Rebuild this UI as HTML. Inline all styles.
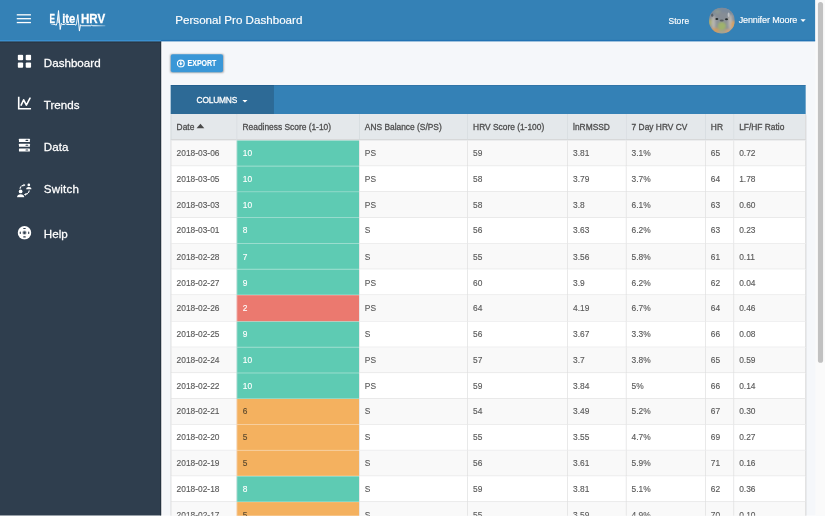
<!DOCTYPE html>
<html lang="en">
<head>
<meta charset="utf-8">
<title>Personal Pro Dashboard</title>
<style>
*{box-sizing:border-box;margin:0;padding:0}
html,body{width:825px;height:525px;overflow:hidden;background:#fff}
body{font-family:"Liberation Sans",sans-serif;}
#app{position:absolute;left:0;top:0;width:1280px;height:800px;overflow:hidden;transform:scale(0.64453125);transform-origin:0 0;background:#f5f7fa}
#top{position:absolute;left:0;top:0;width:1265px;height:64px;background:#3481b6;z-index:5;color:#fff}
#top:before{content:"";position:absolute;left:0;top:62px;width:250px;height:1.6px;background:#3a8fcf}
#top:after{content:"";position:absolute;left:250px;top:62px;width:1015px;height:1.6px;background:#2272b3}
#side:before{content:"";position:absolute;left:0;top:-0.4px;width:250px;height:3px;background:linear-gradient(#1f2a36,rgba(31,42,54,0))}
#side:after{content:"";position:absolute;right:0;top:0;width:1.5px;height:736px;background:#1e2935}
#edge{position:absolute;left:250px;top:63.6px;width:3px;height:737px;background:linear-gradient(90deg,#fff,rgba(255,255,255,0));z-index:1}
#edge2{position:absolute;left:250px;top:63.6px;width:1015px;height:2.5px;background:linear-gradient(#fff,rgba(255,255,255,0));z-index:1}
#side{position:absolute;left:0;top:64px;width:250px;height:736px;background:#2f3e4e;z-index:2}
#scroll{position:absolute;left:1265px;top:0;width:15px;height:800px;background:#fafafa;z-index:9}
#scroll i{position:absolute;left:4px;top:3px;width:8px;height:560px;border-radius:4px;background:#c1c1c1}
#burger{position:absolute;left:26px;top:21.8px;width:22px;height:16px}
#burger b{position:absolute;left:0;width:22px;height:2.5px;background:#fff}
#logo{position:absolute;left:0;top:0;display:block}
#title{position:absolute;left:272px;top:0;line-height:64px;font-size:18px;white-space:nowrap;-webkit-text-stroke:0.25px #fff}
#store{position:absolute;left:1037px;top:0.5px;line-height:64px;font-size:13px;white-space:nowrap;letter-spacing:0.25px;-webkit-text-stroke:0.25px #fff}
#avatar{position:absolute;left:1100px;top:12px;display:block}
#user{position:absolute;left:1146px;top:0;line-height:62px;font-size:14px;white-space:nowrap;letter-spacing:-0.18px;-webkit-text-stroke:0.2px #fff}
#ucaret{position:absolute;left:1242px;top:30px;border:4.2px solid transparent;border-top-color:#fff;border-bottom:0}
.nav{position:absolute;left:68px;height:24px;line-height:24px;color:#fff;font-size:18px;white-space:nowrap;-webkit-text-stroke:0.4px #fff}
.ic{position:absolute;display:block}
#export{position:absolute;left:265px;top:84px;width:81px;height:28px;background:#3a97d7;border-radius:3px;box-shadow:0 1px 3px rgba(0,0,0,.3);color:#fff;font-size:12px;font-weight:bold;white-space:nowrap}
#export span{position:absolute;left:25.5px;top:0.5px;line-height:28px;font-size:13.4px;transform:scaleX(0.81);transform-origin:0 50%;-webkit-text-stroke:0.2px #fff}
#export svg{position:absolute;left:9px;top:8px}
#bar{position:absolute;left:265px;top:132px;width:985px;height:45px;background:#3481b6}
#bar:after{content:"";position:absolute;left:0;top:0;width:985px;height:1.3px;background:rgba(0,55,110,.4)}
#cols{position:absolute;left:0;top:0;width:160px;height:45px;background:#2d6a96;color:#fff;font-size:13px;white-space:nowrap}
#cols span{position:absolute;left:40px;top:0.9px;line-height:45px;letter-spacing:-0.3px;-webkit-text-stroke:0.4px #fff}
#cols i{position:absolute;left:111px;top:23px;border:4.3px solid transparent;border-top-color:#fff;border-bottom:0}
table{position:absolute;left:265px;top:177px;width:985px;border-collapse:separate;border-spacing:0;table-layout:fixed;font-size:13px;color:#5a5a5a;box-shadow:0 1px 2px rgba(0,0,0,.22)}
th,td{padding:0 8px 0 8px;text-align:left;vertical-align:middle;border-left:1px solid #ddd;white-space:nowrap;overflow:hidden}
th{height:41px;background:#e4e8eb;color:#4e4e4e;font-weight:normal;-webkit-text-stroke:0.45px #4e4e4e;border-bottom:2px solid #d4d4d4;border-left-color:#d3d8dc}
td{height:40.08px;padding-top:0.4px;border-bottom:1px solid #ddd;-webkit-text-stroke:0.2px currentColor}
td.g,td.o,td.r{padding-left:9px}
th:nth-child(2){padding-left:8.7px}
th:last-child,td:last-child{border-right:1px solid #d6d6d6}
tbody tr:nth-child(odd){background:#f9f9f9}
tbody tr:nth-child(even){background:#fff}
td.g{background:#5ecbb3;color:#fff;border-bottom-color:#a2dfd0;border-left-color:#f4eef0}
td.o{background:#f4b15f;color:#5d4a2e;border-bottom-color:#f6d2a4;border-left-color:#f4eef0}
td.r{background:#eb796f;color:#fff;border-bottom-color:#f2a8a1;border-left-color:#f4eef0}
.up{display:inline-block;border:6px solid transparent;border-bottom:7px solid #4a4a4a;border-top:0;margin-left:4px;position:relative;top:-1.6px}
</style>
</head>
<body>
<div id="app">
  <div id="top">
    <div id="burger"><b style="top:0"></b><b style="top:6px"></b><b style="top:12px"></b></div>
    <svg id="logo" width="180" height="64" viewBox="0 0 180 64" role="img" aria-label="Elite HRV"><title>Elite HRV</title>
      <defs><linearGradient id="lg" gradientUnits="userSpaceOnUse" x1="78" y1="0" x2="165" y2="0"><stop offset="0" stop-color="#fff" stop-opacity="0.2"/><stop offset="0.08" stop-color="#fff"/><stop offset="0.8" stop-color="#fff"/><stop offset="1" stop-color="#fff" stop-opacity="0.25"/></linearGradient></defs>
      <g fill="#fff" stroke="#fff" stroke-width="0.4" font-family="'Liberation Sans',sans-serif" font-weight="bold" font-size="19.6">
        <text y="35.3"><tspan x="76.8" textLength="8.6" lengthAdjust="spacingAndGlyphs">E</tspan><tspan x="89.6" font-weight="normal" stroke="none" textLength="2.4" lengthAdjust="spacingAndGlyphs">l</tspan><tspan x="96.4" textLength="20.4" lengthAdjust="spacingAndGlyphs">ite</tspan> <tspan x="125.6" textLength="37.6" lengthAdjust="spacingAndGlyphs">HRV</tspan></text>
      </g>
      <path fill="none" stroke="url(#lg)" stroke-width="1.5" stroke-linejoin="round" d="M79 38h6.500l1.7 1.2 1.3-3.4 2.3-19.4 2.6 29.4 1.7-9.6 1.4 1.800h4l1.6-1.3 1.6 1.300h12.600l1.4 1.2 1.1-3.2 2-13.4 2.4 25.6 1.7-9.8 1.5 1.600h14.500l1.5-1 1.5 1h19.5"/>
    </svg>
    <div id="title">Personal Pro Dashboard</div>
    <div id="store">Store</div>
    <svg id="avatar" width="40" height="40" viewBox="0 0 40 40"><defs><clipPath id="avc"><circle cx="20" cy="20" r="20"/></clipPath><filter id="avb" x="-30%" y="-30%" width="160%" height="160%"><feGaussianBlur stdDeviation="2"/></filter><filter id="avd" x="-50%" y="-50%" width="200%" height="200%"><feGaussianBlur stdDeviation="0.9"/></filter></defs><g clip-path="url(#avc)"><rect width="40" height="40" fill="#8b9097"/><g filter="url(#avb)"><rect x="-4" y="-4" width="48" height="15" fill="#7b8a9a"/><ellipse cx="20" cy="13" rx="13" ry="6" fill="#868d95"/><ellipse cx="13" cy="6" rx="5" ry="3" fill="#8f9a92"/><ellipse cx="2" cy="23" rx="3.5" ry="5" fill="#a9ad6a"/><ellipse cx="7" cy="24" rx="3" ry="12" fill="#b8b6b0"/><ellipse cx="33" cy="22" rx="3" ry="12" fill="#bab7b2"/><ellipse cx="9" cy="36" rx="8" ry="5" fill="#cc9c64"/><ellipse cx="38" cy="28" rx="4" ry="8" fill="#d3a064"/><ellipse cx="30" cy="37" rx="6" ry="4" fill="#c9a27a"/><ellipse cx="20" cy="28.5" rx="6.5" ry="6.5" fill="#9fb26c"/><ellipse cx="20" cy="38" rx="6" ry="3" fill="#aaa68e"/></g><g filter="url(#avd)"><ellipse cx="30.5" cy="11" rx="1.5" ry="3.5" fill="#c0c3c7"/><ellipse cx="5" cy="11.5" rx="1.8" ry="2.6" fill="#59626a"/><ellipse cx="12.2" cy="17.6" rx="2.3" ry="1.5" fill="#232a2a"/><ellipse cx="27.2" cy="18" rx="2.3" ry="1.5" fill="#232a2a"/><ellipse cx="19.8" cy="19.8" rx="3.2" ry="1.7" fill="#565c60"/></g></g></svg>
    <div id="user">Jennifer Moore</div>
    <div id="ucaret"></div>
  </div>
  <div id="side">
    <svg class="ic" style="left:27px;top:20px" width="22" height="22" viewBox="0 0 22 22"><g fill="#fff"><rect x="0.5" y="1" width="8.4" height="8.4" rx="1.6"/><rect x="12.9" y="1" width="8.4" height="8.4" rx="1.6"/><rect x="0.5" y="12.9" width="8.4" height="8.4" rx="1.6"/><rect x="12.9" y="12.9" width="8.4" height="8.4" rx="1.6"/></g></svg>
    <div class="nav" style="top:22px">Dashboard</div>
    <svg class="ic" style="left:27px;top:85px" width="22" height="22" viewBox="0 0 22 22"><path d="M2 1v18.7h19.2" fill="none" stroke="#fff" stroke-width="2.6"/><path d="M5.8 14l3.9-8.2 4.2 8.2L19.6 3.2" fill="none" stroke="#fff" stroke-width="2.5" stroke-linejoin="round" stroke-linecap="round"/></svg>
    <div class="nav" style="top:87.4px">Trends</div>
    <svg class="ic" style="left:27px;top:150px" width="22" height="22" viewBox="0 0 22 22"><g fill="#fff"><rect x="2.4" y="1.4" width="17" height="4.8" rx="0.8"/><rect x="2.4" y="9" width="17" height="4.8" rx="0.8"/><rect x="2.4" y="16.4" width="17" height="4.8" rx="0.8"/></g><g fill="#2f3e4e"><rect x="12.6" y="3" width="4.2" height="1.6" rx="0.8"/><rect x="12.6" y="10.6" width="4.2" height="1.6" rx="0.8"/><rect x="12.6" y="18" width="4.2" height="1.6" rx="0.8"/></g></svg>
    <div class="nav" style="top:152.5px">Data</div>
    <svg class="ic" style="left:26px;top:219px" width="24" height="24" viewBox="0 0 24 24"><g fill="#fff"><circle cx="6" cy="14" r="2.9"/><path d="M0.4 23.2c0-3.6 2.4-5 5.6-5s5.6 1.4 5.6 5z"/><circle cx="18.7" cy="3.9" r="2.1"/><path d="M14.6 10.800c0-2.7 1.8-3.7 4.1-3.700s4.1 1 4.1 3.700z"/></g><g fill="none" stroke="#fff" stroke-width="1.7" stroke-linecap="round"><path d="M5.2 9.300c0.6-2.7 3.2-4.7 6.4-5.2" stroke-dasharray="2.6 2.2"/><path d="M19.2 13.200c-0.6 2.9-3.2 4.9-6.6 5.4" stroke-dasharray="2.6 2.2"/></g><path d="M10.4 2.200l3.2 1.9-3 2.200z" fill="#fff"/><path d="M14.2 16.800l-3.2 2 3.2 1.900z" fill="#fff"/></svg>
    <div class="nav" style="top:217.6px;letter-spacing:0.3px">Switch</div>
    <svg class="ic" style="left:27px;top:286px" width="22" height="22" viewBox="0 0 22 22"><circle cx="11" cy="11" r="10.5" fill="#fff"/><g fill="#2f3e4e"><circle cx="11" cy="11" r="3.3" opacity="0.45"/><circle cx="11" cy="11" r="1.9"/><rect x="9" y="3.6" width="4" height="1.7" rx="0.8"/><rect x="9" y="16.7" width="4" height="1.7" rx="0.8"/><rect x="3.6" y="9" width="1.7" height="4" rx="0.8"/><rect x="16.7" y="9" width="1.7" height="4" rx="0.8"/></g></svg>
    <div class="nav" style="top:287.8px">Help</div>
  </div>
  <div id="edge"></div><div id="edge2"></div>
  <div id="export"><svg width="13" height="13" viewBox="0 0 13 13"><circle cx="6.5" cy="6.5" r="5.3" fill="none" stroke="#fff" stroke-width="1.8"/><path d="M5.5 3.200h2v3h1.900L6.5 9.6 3.6 6.200h1.900z" fill="#fff"/></svg><span>EXPORT</span></div>
  <div id="bar"><div id="cols"><span>COLUMNS</span><i></i></div></div>
  <table>
    <colgroup><col style="width:101.6px"><col style="width:190.5px"><col style="width:167.9px"><col style="width:155.2px"><col style="width:90.8px"><col style="width:122.9px"><col style="width:44px"><col style="width:112.1px"></colgroup>
    <thead><tr><th>Date<i class="up"></i></th><th>Readiness Score (1-10)</th><th>ANS Balance (S/PS)</th><th>HRV Score (1-100)</th><th>lnRMSSD</th><th>7 Day HRV CV</th><th>HR</th><th>LF/HF Ratio</th></tr></thead>
    <tbody>
      <tr><td>2018-03-06</td><td class="g">10</td><td>PS</td><td>59</td><td>3.81</td><td>3.1%</td><td>65</td><td>0.72</td></tr>
      <tr><td>2018-03-05</td><td class="g">10</td><td>PS</td><td>58</td><td>3.79</td><td>3.7%</td><td>64</td><td>1.78</td></tr>
      <tr><td>2018-03-03</td><td class="g">10</td><td>PS</td><td>58</td><td>3.8</td><td>6.1%</td><td>63</td><td>0.60</td></tr>
      <tr><td>2018-03-01</td><td class="g">8</td><td>S</td><td>56</td><td>3.63</td><td>6.2%</td><td>63</td><td>0.23</td></tr>
      <tr><td>2018-02-28</td><td class="g">7</td><td>S</td><td>55</td><td>3.56</td><td>5.8%</td><td>61</td><td>0.11</td></tr>
      <tr><td>2018-02-27</td><td class="g">9</td><td>PS</td><td>60</td><td>3.9</td><td>6.2%</td><td>62</td><td>0.04</td></tr>
      <tr><td>2018-02-26</td><td class="r">2</td><td>PS</td><td>64</td><td>4.19</td><td>6.7%</td><td>64</td><td>0.46</td></tr>
      <tr><td>2018-02-25</td><td class="g">9</td><td>S</td><td>56</td><td>3.67</td><td>3.3%</td><td>66</td><td>0.08</td></tr>
      <tr><td>2018-02-24</td><td class="g">10</td><td>PS</td><td>57</td><td>3.7</td><td>3.8%</td><td>65</td><td>0.59</td></tr>
      <tr><td>2018-02-22</td><td class="g">10</td><td>PS</td><td>59</td><td>3.84</td><td>5%</td><td>66</td><td>0.14</td></tr>
      <tr><td>2018-02-21</td><td class="o">6</td><td>S</td><td>54</td><td>3.49</td><td>5.2%</td><td>67</td><td>0.30</td></tr>
      <tr><td>2018-02-20</td><td class="o">5</td><td>S</td><td>55</td><td>3.55</td><td>4.7%</td><td>69</td><td>0.27</td></tr>
      <tr><td>2018-02-19</td><td class="o">5</td><td>S</td><td>56</td><td>3.61</td><td>5.9%</td><td>71</td><td>0.16</td></tr>
      <tr><td>2018-02-18</td><td class="g">8</td><td>S</td><td>59</td><td>3.81</td><td>5.1%</td><td>62</td><td>0.36</td></tr>
      <tr><td>2018-02-17</td><td class="o">5</td><td>S</td><td>55</td><td>3.59</td><td>4.9%</td><td>70</td><td>0.10</td></tr>
    </tbody>
  </table>
  <div id="scroll"><i></i></div>
</div>
</body>
</html>
